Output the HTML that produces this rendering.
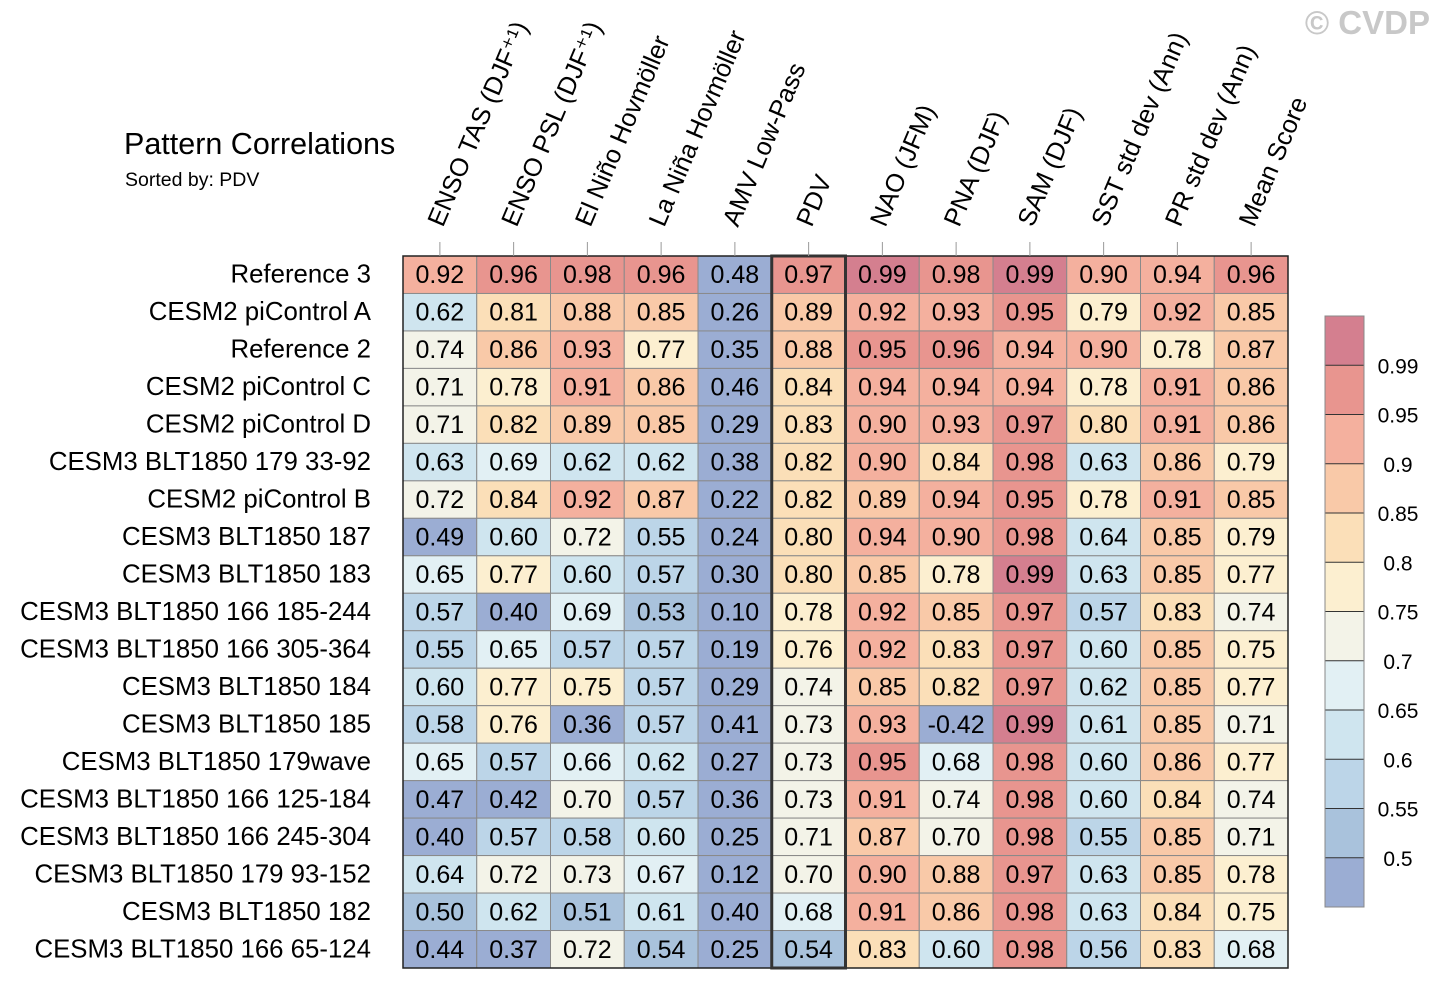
<!DOCTYPE html>
<html><head><meta charset="utf-8"><style>
html,body{margin:0;padding:0;background:#fff;}
svg{display:block;font-family:"Liberation Sans",Arial,sans-serif;}
</style></head><body>
<svg id="chart" width="1440" height="989" viewBox="0 0 1440 989" xmlns="http://www.w3.org/2000/svg">
<text x="124" y="154" font-size="30.5" fill="#000">Pattern Correlations</text>
<text x="125" y="186" font-size="19.5" fill="#000">Sorted by: PDV</text>
<text x="1430" y="34" font-size="33" font-weight="bold" fill="#c8c8c8" text-anchor="end">© CVDP</text>
<g id="cells"></g>
<g id="labels"></g>
<g id="cbar"></g>
</svg>
<script>
const columns=["ENSO TAS (DJF⁺¹)","ENSO PSL (DJF⁺¹)","El Niño Hovmöller","La Niña Hovmöller","AMV Low-Pass","PDV","NAO (JFM)","PNA (DJF)","SAM (DJF)","SST std dev (Ann)","PR std dev (Ann)","Mean Score"];
const rows=["Reference 3","CESM2 piControl A","Reference 2","CESM2 piControl C","CESM2 piControl D","CESM3 BLT1850 179 33-92","CESM2 piControl B","CESM3 BLT1850 187","CESM3 BLT1850 183","CESM3 BLT1850 166 185-244","CESM3 BLT1850 166 305-364","CESM3 BLT1850 184","CESM3 BLT1850 185","CESM3 BLT1850 179wave","CESM3 BLT1850 166 125-184","CESM3 BLT1850 166 245-304","CESM3 BLT1850 179 93-152","CESM3 BLT1850 182","CESM3 BLT1850 166 65-124"];
const values=[
[0.92,0.96,0.98,0.96,0.48,0.97,0.99,0.98,0.99,0.90,0.94,0.96],
[0.62,0.81,0.88,0.85,0.26,0.89,0.92,0.93,0.95,0.79,0.92,0.85],
[0.74,0.86,0.93,0.77,0.35,0.88,0.95,0.96,0.94,0.90,0.78,0.87],
[0.71,0.78,0.91,0.86,0.46,0.84,0.94,0.94,0.94,0.78,0.91,0.86],
[0.71,0.82,0.89,0.85,0.29,0.83,0.90,0.93,0.97,0.80,0.91,0.86],
[0.63,0.69,0.62,0.62,0.38,0.82,0.90,0.84,0.98,0.63,0.86,0.79],
[0.72,0.84,0.92,0.87,0.22,0.82,0.89,0.94,0.95,0.78,0.91,0.85],
[0.49,0.60,0.72,0.55,0.24,0.80,0.94,0.90,0.98,0.64,0.85,0.79],
[0.65,0.77,0.60,0.57,0.30,0.80,0.85,0.78,0.99,0.63,0.85,0.77],
[0.57,0.40,0.69,0.53,0.10,0.78,0.92,0.85,0.97,0.57,0.83,0.74],
[0.55,0.65,0.57,0.57,0.19,0.76,0.92,0.83,0.97,0.60,0.85,0.75],
[0.60,0.77,0.75,0.57,0.29,0.74,0.85,0.82,0.97,0.62,0.85,0.77],
[0.58,0.76,0.36,0.57,0.41,0.73,0.93,-0.42,0.99,0.61,0.85,0.71],
[0.65,0.57,0.66,0.62,0.27,0.73,0.95,0.68,0.98,0.60,0.86,0.77],
[0.47,0.42,0.70,0.57,0.36,0.73,0.91,0.74,0.98,0.60,0.84,0.74],
[0.40,0.57,0.58,0.60,0.25,0.71,0.87,0.70,0.98,0.55,0.85,0.71],
[0.64,0.72,0.73,0.67,0.12,0.70,0.90,0.88,0.97,0.63,0.85,0.78],
[0.50,0.62,0.51,0.61,0.40,0.68,0.91,0.86,0.98,0.63,0.84,0.75],
[0.44,0.37,0.72,0.54,0.25,0.54,0.83,0.60,0.98,0.56,0.83,0.68]];
const levels=[0.5,0.55,0.6,0.65,0.7,0.75,0.8,0.85,0.9,0.95,0.99];
const levelLabels=["0.5","0.55","0.6","0.65","0.7","0.75","0.8","0.85","0.9","0.95","0.99"];
const palette=["#9badd3","#a9c2dc","#bcd5e8","#cfe5ef","#e2f0f4","#f3f3e8","#fcefd0","#fbdfb8","#f9c9a8","#f4b09e","#e8958f","#d47f8f"];
const highlightCol="PDV";

const NS="http://www.w3.org/2000/svg";
const X0=403,X1=1288,Y0=256,Y1=968;
const cw=(X1-X0)/columns.length, rh=(Y1-Y0)/rows.length;
const xPos=i=>X0+i*cw, yPos=j=>Y0+j*rh;
function colorOf(v){let k=0;while(k<levels.length&&v>=levels[k])k++;return palette[k];}
function mk(tag,attrs,parent){const e=document.createElementNS(NS,tag);for(const k in attrs)e.setAttribute(k,attrs[k]);parent.appendChild(e);return e;}
const cells=document.getElementById('cells'), labels=document.getElementById('labels'), cbar=document.getElementById('cbar');
values.forEach((row,j)=>{
  row.forEach((v,i)=>{
    const r=mk('rect',{x:xPos(i),y:yPos(j),width:cw,height:rh,fill:colorOf(v),stroke:'#8a8a8a','stroke-width':1},cells);
    
    
    const t=mk('text',{x:xPos(i)+cw/2,y:yPos(j)+rh/2+8.5,'text-anchor':'middle','font-size':25,fill:'#000'},cells);
    t.textContent=v.toFixed(2);
    
    
  });
});
const fr=mk('rect',{x:X0,y:Y0,width:X1-X0,height:Y1-Y0,fill:'none',stroke:'#222','stroke-width':1.5},cells);


const hi=columns.indexOf(highlightCol);
const hb=mk('rect',{x:xPos(hi),y:Y0,width:cw,height:Y1-Y0,fill:'none',stroke:'#333','stroke-width':3},cells);


rows.forEach((name,j)=>{
  const t=mk('text',{x:371,y:yPos(j)+rh/2+8,'text-anchor':'end','font-size':25.8,fill:'#000'},labels);
  t.textContent=name;
  
  
});
columns.forEach((name,i)=>{
  const cx=xPos(i)+cw/2;
  const tk=mk('line',{x1:cx,y1:242,x2:cx,y2:256,stroke:'#999','stroke-width':1},labels);
  
  
  const ox=cx+3, oy=228;
  const t=mk('text',{x:ox,y:oy,'font-size':25.5,fill:'#000',transform:`rotate(-67 ${ox} ${oy})`},labels);
  t.textContent=name;
  
  
});
// colorbar
const CB_X=1325,CB_W=39,CB_TOP=316,CB_BOT=907;
const bh=(CB_BOT-CB_TOP)/palette.length;
palette.forEach((c,k)=>{
  const y=CB_BOT-(k+1)*bh;
  const r=mk('rect',{x:CB_X,y:y,width:CB_W,height:bh,fill:c},cbar);
  
  
});
levels.forEach((lv,k)=>{
  const y=CB_BOT-(k+1)*bh;
  const l=mk('line',{x1:CB_X,y1:y,x2:CB_X+CB_W,y2:y,stroke:'#333','stroke-width':1},cbar);
  
  
  const t=mk('text',{x:1398,y:y+8,'text-anchor':'middle','font-size':21,fill:'#000'},cbar);
  t.textContent=levelLabels[k];
  
  
});
const cf=mk('rect',{x:CB_X,y:CB_TOP,width:CB_W,height:CB_BOT-CB_TOP,fill:'none',stroke:'#888','stroke-width':1},cbar);


</script>
</body></html>
